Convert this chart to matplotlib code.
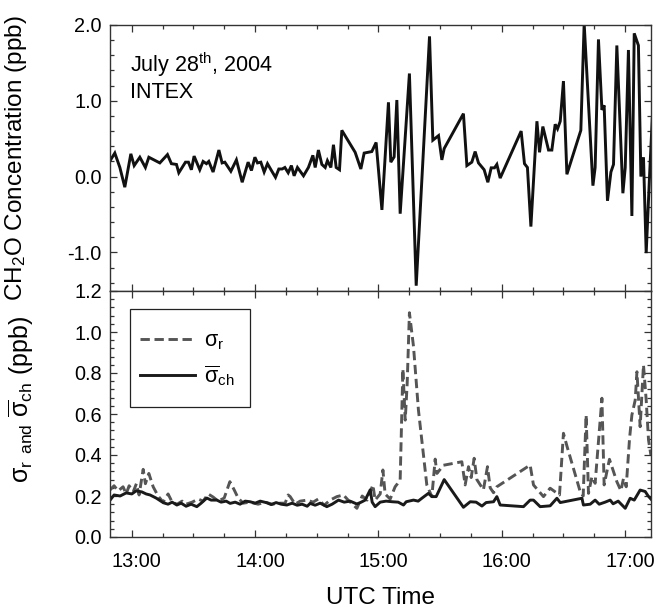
import matplotlib
matplotlib.use("Agg")
import matplotlib.pyplot as plt
import matplotlib.transforms as mtransforms
from matplotlib.patches import Rectangle
from matplotlib.ticker import MultipleLocator, FuncFormatter

plt.rcParams['font.family'] = ['Liberation Sans', 'DejaVu Sans']
plt.rcParams['mathtext.fontset'] = 'custom'
plt.rcParams['mathtext.rm'] = 'Liberation Sans'
plt.rcParams['mathtext.it'] = 'Liberation Sans'
plt.rcParams['mathtext.bf'] = 'Liberation Sans'
plt.rcParams['axes.unicode_minus'] = False

# ---- Data (UTC time in decimal hours) ----
ch2o_time = [12.824, 12.862, 12.903, 12.943, 12.992, 13.019, 13.065, 13.110, 13.138, 13.227,
             13.289, 13.321, 13.362, 13.381, 13.435, 13.459, 13.483, 13.505, 13.551, 13.578,
             13.605, 13.624, 13.659, 13.706, 13.732, 13.754, 13.803, 13.848, 13.895, 13.943,
             13.970, 13.998, 14.019, 14.046, 14.073, 14.100, 14.132, 14.165, 14.192, 14.219,
             14.241, 14.268, 14.294, 14.316, 14.343, 14.392, 14.432, 14.468, 14.487, 14.513,
             14.541, 14.568, 14.586, 14.614, 14.635, 14.657, 14.684, 14.703, 14.811, 14.857,
             14.884, 14.946, 14.981, 15.028, 15.081, 15.100, 15.127, 15.149, 15.176, 15.251,
             15.306, 15.414, 15.441, 15.487, 15.514, 15.533, 15.689, 15.717, 15.757, 15.784,
             15.811, 15.857, 15.887, 15.914, 15.941, 15.960, 15.987, 16.157, 16.184, 16.208,
             16.236, 16.285, 16.306, 16.333, 16.379, 16.406, 16.433, 16.452, 16.474, 16.500,
             16.528, 16.641, 16.668, 16.739, 16.757, 16.784, 16.812, 16.830, 16.857, 16.885,
             16.906, 16.933, 16.982, 17.001, 17.027, 17.055, 17.074, 17.108, 17.128, 17.149,
             17.171, 17.198, 17.220]
ch2o_conc = [0.21, 0.31, 0.12, -0.14, 0.30, 0.145, 0.255, 0.12, 0.255, 0.18,
             0.29, 0.17, 0.16, 0.05, 0.19, 0.19, 0.09, 0.27, 0.09, 0.20,
             0.17, 0.20, 0.06, 0.35, 0.18, 0.19, 0.07, 0.22, -0.075, 0.19,
             0.08, 0.255, 0.18, 0.19, 0.06, 0.17, 0.08, -0.01, 0.10, 0.10,
             0.12, 0.05, 0.145, 0.01, 0.12, 0.01, 0.12, 0.28, 0.12, 0.35,
             0.16, 0.12, 0.21, 0.12, 0.42, 0.12, 0.09, 0.61, 0.32, 0.10,
             0.31, 0.33, 0.45, -0.44, 0.98, 0.19, 0.26, 1.01, -0.49, 1.36,
             -1.44, 1.85, 0.48, 0.54, 0.22, 0.37, 0.83, 0.145, 0.19, 0.33,
             0.18, 0.09, -0.075, 0.115, 0.115, 0.16, -0.02, 0.60, 0.17, 0.12,
             -0.66, 0.73, 0.32, 0.66, 0.35, 0.35, 0.69, 0.63, 0.73, 1.26,
             0.03, 0.61, 2.02, -0.12, 0.12, 1.81, 0.88, 0.94, -0.32, 0.06,
             0.16, 1.73, -0.22, 0.12, 1.67, -0.52, 1.89, 1.73, 0.0, 0.255,
             -1.01, 0.0, 0.76]

sigma_ch_time = [12.824, 12.856, 12.905, 12.954, 13.000, 13.035, 13.081, 13.116, 13.148, 13.197,
                 13.256, 13.294, 13.327, 13.365, 13.400, 13.440, 13.481, 13.527, 13.562, 13.608,
                 13.643, 13.689, 13.724, 13.765, 13.797, 13.838, 13.878, 13.919, 13.959, 14.000,
                 14.041, 14.095, 14.130, 14.170, 14.211, 14.257, 14.300, 14.341, 14.381, 14.422,
                 14.446, 14.487, 14.527, 14.581, 14.624, 14.676, 14.722, 14.770, 14.825, 14.860,
                 14.892, 14.933, 14.949, 14.973, 15.014, 15.062, 15.111, 15.160, 15.203, 15.225,
                 15.284, 15.322, 15.354, 15.405, 15.433, 15.468, 15.533, 15.689, 15.744, 15.792,
                 15.839, 15.873, 15.933, 15.960, 15.987, 16.176, 16.230, 16.257, 16.311, 16.392,
                 16.447, 16.474, 16.650, 16.662, 16.717, 16.757, 16.790, 16.838, 16.879, 16.903,
                 16.944, 17.001, 17.041, 17.074, 17.122, 17.163, 17.187, 17.217]
sigma_ch = [0.18, 0.205, 0.20, 0.215, 0.21, 0.225, 0.22, 0.21, 0.205, 0.19,
            0.167, 0.16, 0.17, 0.156, 0.165, 0.15, 0.16, 0.148, 0.165, 0.19,
            0.18, 0.18, 0.17, 0.175, 0.164, 0.17, 0.16, 0.175, 0.172, 0.165,
            0.175, 0.167, 0.158, 0.168, 0.16, 0.156, 0.165, 0.155, 0.16, 0.15,
            0.164, 0.155, 0.165, 0.148, 0.16, 0.18, 0.17, 0.175, 0.161, 0.17,
            0.18, 0.23, 0.17, 0.148, 0.17, 0.175, 0.172, 0.17, 0.156, 0.172,
            0.18, 0.175, 0.19, 0.213, 0.197, 0.197, 0.28, 0.145, 0.172, 0.17,
            0.151, 0.168, 0.172, 0.197, 0.156, 0.148, 0.18, 0.18, 0.148, 0.152,
            0.189, 0.168, 0.189, 0.156, 0.16, 0.18, 0.16, 0.17, 0.18, 0.162,
            0.175, 0.14, 0.189, 0.18, 0.229, 0.222, 0.20, 0.18]

sigma_r_time = [12.824, 12.856, 12.889, 12.929, 12.954, 12.978, 13.011, 13.037, 13.059, 13.092,
                13.110, 13.138, 13.173, 13.213, 13.254, 13.294, 13.327, 13.367, 13.408, 13.440,
                13.489, 13.538, 13.578, 13.619, 13.659, 13.700, 13.749, 13.795, 13.830, 13.862,
                13.903, 13.959, 14.024, 14.081, 14.138, 14.203, 14.243, 14.268, 14.284, 14.324,
                14.365, 14.422, 14.470, 14.511, 14.560, 14.608, 14.663, 14.716, 14.754, 14.825,
                14.868, 14.908, 14.955, 14.973, 15.014, 15.036, 15.054, 15.095, 15.135, 15.154,
                15.176, 15.198, 15.217, 15.233, 15.251, 15.284, 15.324, 15.392, 15.433, 15.460,
                15.474, 15.527, 15.676, 15.703, 15.730, 15.752, 15.776, 15.798, 15.851, 15.884,
                15.906, 15.933, 15.960, 16.230, 16.257, 16.338, 16.392, 16.468, 16.500, 16.530,
                16.636, 16.660, 16.684, 16.703, 16.731, 16.757, 16.812, 16.830, 16.873, 16.933,
                16.966, 16.987, 17.009, 17.036, 17.055, 17.082, 17.096, 17.122, 17.149, 17.171,
                17.190, 17.209]
sigma_r = [0.23, 0.25, 0.225, 0.245, 0.21, 0.25, 0.22, 0.26, 0.205, 0.33,
           0.26, 0.31, 0.245, 0.20, 0.17, 0.21, 0.17, 0.16, 0.175, 0.16,
           0.17, 0.185, 0.175, 0.21, 0.195, 0.175, 0.19, 0.27, 0.23, 0.19,
           0.165, 0.17, 0.16, 0.17, 0.16, 0.165, 0.165, 0.205, 0.197, 0.16,
           0.175, 0.18, 0.17, 0.185, 0.155, 0.18, 0.197, 0.205, 0.18, 0.14,
           0.20, 0.18, 0.254, 0.18, 0.21, 0.327, 0.21, 0.185, 0.245, 0.26,
           0.28, 0.82, 0.57, 0.75, 1.094, 0.93, 0.62, 0.254, 0.197, 0.38,
           0.31, 0.35, 0.367, 0.254, 0.343, 0.29, 0.384, 0.28, 0.23, 0.343,
           0.24, 0.216, 0.245, 0.351, 0.254, 0.197, 0.238, 0.205, 0.506, 0.44,
           0.221, 0.20, 0.595, 0.213, 0.294, 0.262, 0.677, 0.254, 0.379, 0.27,
           0.226, 0.286, 0.245, 0.48, 0.595, 0.668, 0.806, 0.538, 0.839, 0.668,
           0.473, 0.40]

hour_ticks_fmt = "{:d}:00"

# ---- Figure ----
W, H = 658, 610
fig = plt.figure(figsize=(W / 100, H / 100), dpi=100)
L, R = 110, 651
ax1 = fig.add_axes([L / W, (H - 291) / H, (R - L) / W, (291 - 25) / H])
ax2 = fig.add_axes([L / W, (H - 537) / H, (R - L) / W, (537 - 291) / H])

spine_col = '#333333'
for ax in (ax1, ax2):
    ax.set_xlim(12.823, 17.21)
    ax.xaxis.set_major_locator(MultipleLocator(1.0))
    ax.xaxis.set_minor_locator(MultipleLocator(0.25))
    ax.xaxis.set_major_formatter(FuncFormatter(lambda v, p: hour_ticks_fmt.format(int(round(v)))))
    ax.tick_params(which='both', direction='in', top=True, right=True,
                   color=spine_col, labelsize=14.3, width=0.9)
    ax.tick_params(which='major', length=5)
    ax.tick_params(which='minor', length=2.8)
    ax.tick_params(axis='y', pad=6)
    ax.tick_params(axis='x', pad=11)
    for s in ax.spines.values():
        s.set_color(spine_col)
        s.set_linewidth(1.0)

# top panel
ax1.plot(ch2o_time, ch2o_conc, color='#111111', lw=2.1, solid_joinstyle='miter')
ax1.set_ylim(-1.51, 2.0)
ax1.yaxis.set_major_locator(MultipleLocator(1.0))
ax1.yaxis.set_minor_locator(MultipleLocator(0.2))
ax1.yaxis.set_major_formatter(FuncFormatter(lambda v, p: f"{v:.1f}"))
ax1.tick_params(axis='x', labelbottom=False)
ax1.set_ylabel('CH$_2$O Concentration (ppb)', fontsize=17.5)
ax1.yaxis.set_label_coords(-0.150, 0.5)
ax1.text(0.037, 0.822, 'July 28$^{\\mathrm{th}}$, 2004', transform=ax1.transAxes,
         fontsize=15.5, ha='left', va='baseline')
ax1.text(0.037, 0.724, 'INTEX', transform=ax1.transAxes,
         fontsize=15.5, ha='left', va='baseline')

# bottom panel
ax2.plot(sigma_r_time, sigma_r, color='#555555', lw=2.1, dashes=(3.2, 1.6),
         label='$\\mathregular{\\sigma_r}$')
ax2.plot(sigma_ch_time, sigma_ch, color='#1a1a1a', lw=2.1,
         label='$\\mathregular{\\overline{\\sigma}_{ch}}$')
ax2.set_ylim(0, 1.2)
ax2.yaxis.set_major_locator(MultipleLocator(0.2))
ax2.yaxis.set_minor_locator(MultipleLocator(0.04))
ax2.yaxis.set_major_formatter(FuncFormatter(lambda v, p: f"{v:.1f}"))
ax2.set_ylabel('$\\mathregular{\\sigma_r}$ $\\mathregular{_{and}}$ '
               '$\\mathregular{\\overline{\\sigma}_{ch}}$ (ppb)', fontsize=18)
ax2.yaxis.set_label_coords(-0.137, 0.56)
ax2.set_xlabel('UTC Time', fontsize=17.5)
ax2.xaxis.label.set_va('baseline')
ax2.xaxis.set_label_coords(0.5, -0.272)

# reference tick labels sit slightly right of their ticks
offset = mtransforms.ScaledTranslation(0.05, 0, fig.dpi_scale_trans)
for tick in ax2.xaxis.get_major_ticks():
    tick.label1.set_transform(tick.label1.get_transform() + offset)

# legend: entries without frame, plus a drawn box matching the reference
leg = ax2.legend(loc='center left', bbox_to_anchor=(0.0555, 0.7236), borderaxespad=0,
                 fontsize=15.5, handlelength=2.56, labelspacing=0.5,
                 borderpad=0, handletextpad=0.42, frameon=False)
ax2.add_patch(Rectangle((0.037, 0.5285), 0.2218, 0.3984, transform=ax2.transAxes,
                        fill=False, edgecolor='#222222', linewidth=0.9, zorder=5))

fig.savefig('out.png', dpi=100)
